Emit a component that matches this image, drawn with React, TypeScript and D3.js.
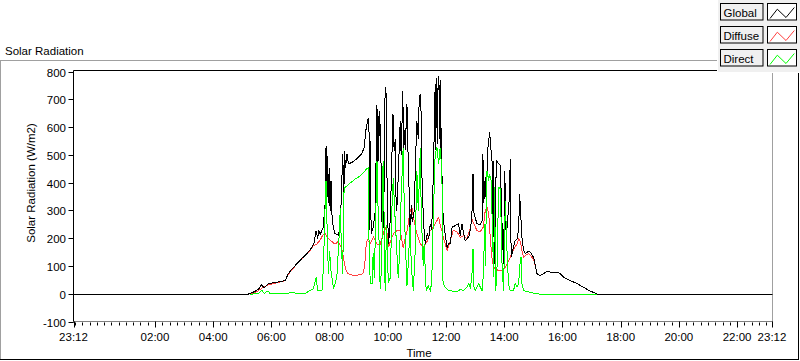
import React from "react";
import * as d3 from "d3";

// Time in hours of day; the axis runs from 23:12 of the previous day to 23:12.
const timeDomain: [number, number] = [-0.8, 23.2];
const valueDomain: [number, number] = [-100, 800];
const yTicks = [-100, 0, 100, 200, 300, 400, 500, 600, 700, 800];
const xTickHours = [-0.8, 2, 4, 6, 8, 10, 12, 14, 16, 18, 20, 22, 23.2];
const xTickLabels = ["23:12", "02:00", "04:00", "06:00", "08:00", "10:00", "12:00", "14:00", "16:00", "18:00", "20:00", "22:00", "23:12"];

const seriesNames = ["Global", "Diffuse", "Direct"];
const seriesColors = ["#000000", "#ff4040", "#00ff00"];

// [hour of day, W/m2]
const globalDay: [number, number][] = [
  [5.18, 0], [5.42, 10], [5.56, 20], [5.65, 35], [5.73, 22], [5.87, 38], [6.11, 42], [6.46, 49],
  [6.56, 74], [6.7, 92], [6.86, 110], [7.04, 130], [7.2, 146], [7.35, 165], [7.45, 185], [7.52, 229],
  [7.57, 200], [7.61, 230], [7.66, 215], [7.76, 240], [7.83, 326], [7.86, 535], [7.88, 380], [7.91, 499], [7.93, 330],
  [7.97, 456], [8.0, 300], [8.03, 409], [8.06, 290], [8.11, 240], [8.17, 218], [8.28, 212], [8.35, 240], [8.4, 409],
  [8.44, 506], [8.46, 229], [8.49, 517], [8.53, 456], [8.58, 506], [8.63, 470], [8.75, 474], [8.92, 488],
  [9.09, 506], [9.17, 528], [9.24, 600], [9.31, 636], [9.34, 578], [9.35, 230], [9.38, 553], [9.41, 218],
  [9.48, 240], [9.55, 300], [9.61, 680], [9.63, 420], [9.65, 640], [9.67, 480], [9.69, 660], [9.74, 560], [9.77, 265], [9.82, 240],
  [9.86, 400], [9.89, 745], [9.93, 720], [9.95, 445], [10.0, 181], [10.05, 230], [10.1, 400], [10.16, 650],
  [10.2, 517], [10.24, 560], [10.27, 301], [10.31, 330], [10.35, 457], [10.41, 625], [10.44, 500], [10.5, 733],
  [10.52, 480], [10.55, 590], [10.58, 520], [10.64, 686], [10.69, 445], [10.72, 360], [10.75, 193], [10.79, 320], [10.82, 260],
  [10.89, 300], [10.94, 500], [10.98, 625], [11.03, 560], [11.06, 700], [11.1, 722], [11.13, 640], [11.15, 445],
  [11.21, 254], [11.27, 181], [11.34, 220], [11.39, 200], [11.44, 254], [11.49, 230], [11.55, 445], [11.58, 600],
  [11.61, 758], [11.63, 520], [11.65, 700], [11.67, 780], [11.69, 540], [11.71, 760], [11.73, 787], [11.75, 730], [11.77, 560],
  [11.78, 770], [11.8, 520], [11.82, 600], [11.84, 445], [11.88, 290], [11.92, 240], [12.02, 168], [12.07, 181],
  [12.13, 181], [12.19, 241], [12.3, 247], [12.41, 254], [12.47, 211], [12.53, 254], [12.59, 218], [12.64, 193],
  [12.71, 200], [12.78, 211], [12.83, 241], [12.87, 277], [12.91, 434], [12.93, 301], [12.99, 272], [13.05, 254],
  [13.16, 250], [13.22, 265], [13.25, 506], [13.28, 330], [13.33, 421], [13.37, 313], [13.41, 517], [13.48, 583],
  [13.53, 517], [13.56, 500], [13.6, 205], [13.62, 481], [13.65, 110], [13.71, 481], [13.79, 470], [13.85, 463],
  [13.91, 241], [13.96, 110], [14.0, 445], [14.05, 200], [14.11, 280], [14.16, 350], [14.19, 488], [14.22, 133],
  [14.3, 169], [14.36, 193], [14.43, 200], [14.48, 240], [14.51, 362], [14.56, 265], [14.59, 205], [14.65, 157],
  [14.71, 146], [14.81, 155], [14.88, 151], [14.99, 133], [15.11, 74], [15.22, 67], [15.34, 74], [15.45, 83],
  [15.57, 79], [15.8, 79], [15.91, 74], [16.02, 61], [16.25, 49], [16.49, 38], [16.71, 25], [16.94, 11],
  [17.11, 4], [17.18, 0],
];

const diffuseDay: [number, number][] = [
  [5.25, 0], [5.46, 8], [5.66, 22], [5.87, 33], [6.11, 40], [6.46, 49], [6.56, 70], [6.7, 90],
  [6.86, 108], [7.04, 128], [7.2, 144], [7.31, 157], [7.42, 175], [7.54, 180], [7.66, 195], [7.76, 215],
  [7.83, 218], [7.9, 205], [8.0, 195], [8.17, 180], [8.28, 190], [8.35, 175], [8.41, 160], [8.46, 130],
  [8.52, 96], [8.59, 76], [8.69, 70], [8.86, 67], [9.09, 72], [9.15, 80], [9.21, 130], [9.24, 182],
  [9.28, 195], [9.38, 182], [9.49, 205], [9.55, 195], [9.62, 180], [9.72, 180], [9.82, 215], [9.89, 241],
  [9.95, 225], [10.01, 169], [10.07, 190], [10.18, 218], [10.3, 229], [10.41, 229], [10.51, 168], [10.58, 200],
  [10.65, 230], [10.75, 301], [10.81, 313], [10.86, 277], [10.98, 218], [11.1, 182], [11.2, 168], [11.33, 190],
  [11.44, 229], [11.54, 240], [11.67, 265], [11.73, 277], [11.78, 250], [11.84, 229], [11.89, 205], [12.02, 157],
  [12.07, 170], [12.13, 193], [12.23, 229], [12.36, 225], [12.47, 205], [12.59, 210], [12.7, 200], [12.82, 240],
  [12.87, 272], [12.93, 255], [13.05, 229], [13.16, 225], [13.26, 241], [13.33, 301], [13.39, 313], [13.45, 290],
  [13.5, 205], [13.56, 133], [13.62, 97], [13.68, 92], [13.79, 85], [13.91, 85], [14.02, 97], [14.08, 110],
  [14.19, 133], [14.3, 160], [14.42, 181], [14.48, 200], [14.54, 190], [14.59, 157], [14.65, 133], [14.71, 140],
  [14.82, 146], [14.88, 140], [14.99, 125], [15.11, 74], [15.22, 67], [15.34, 74], [15.45, 83], [15.57, 79],
  [15.8, 79], [15.91, 74], [16.02, 61], [16.25, 49], [16.49, 38], [16.71, 25], [16.94, 11], [17.11, 4],
  [17.18, 0],
];

const directDay: [number, number][] = [
  [5.25, 0], [5.53, 2], [5.66, 15], [5.73, 3], [5.87, 12], [5.94, 2], [6.28, 2], [6.56, 4],
  [6.73, 8], [6.83, 2], [7.14, 3], [7.31, 13], [7.42, 20], [7.52, 60], [7.57, 13], [7.72, 13],
  [7.77, 96], [7.83, 326], [7.86, 409], [7.89, 265], [7.94, 74], [7.98, 157], [8.03, 85], [8.12, 20],
  [8.23, 60], [8.32, 229], [8.35, 312], [8.38, 200], [8.43, 74], [8.46, 250], [8.48, 384], [8.52, 385],
  [8.69, 400], [8.86, 415], [9.03, 425], [9.17, 440], [9.26, 452], [9.31, 455], [9.34, 160], [9.38, 40],
  [9.44, 38], [9.48, 150], [9.52, 60], [9.61, 481], [9.65, 300], [9.69, 160], [9.72, 20], [9.77, 100],
  [9.82, 481], [9.86, 250], [9.89, 13], [9.94, 250], [10.0, 40], [10.07, 60], [10.12, 300], [10.17, 420],
  [10.22, 300], [10.27, 200], [10.34, 60], [10.39, 150], [10.44, 350], [10.51, 528], [10.55, 300], [10.58, 200],
  [10.64, 30], [10.68, 100], [10.75, 250], [10.79, 100], [10.86, 13], [10.92, 150], [10.98, 445], [11.03, 300],
  [11.1, 528], [11.13, 300], [11.2, 100], [11.23, 180], [11.3, 13], [11.37, 30], [11.44, 13], [11.49, 40],
  [11.54, 254], [11.61, 506], [11.67, 528], [11.73, 470], [11.78, 528], [11.84, 445], [11.88, 38], [11.96, 25],
  [12.06, 13], [12.13, 13], [12.36, 8], [12.47, 17], [12.59, 13], [12.7, 25], [12.76, 38], [12.82, 25],
  [12.87, 61], [12.91, 164], [12.93, 30], [12.99, 13], [13.1, 38], [13.22, 13], [13.27, 74], [13.31, 254],
  [13.33, 100], [13.39, 445], [13.45, 409], [13.48, 434], [13.53, 409], [13.56, 301], [13.62, 61], [13.65, 385],
  [13.69, 13], [13.73, 74], [13.79, 385], [13.85, 380], [13.91, 97], [13.96, 13], [14.02, 337], [14.08, 150],
  [14.13, 38], [14.19, 13], [14.3, 13], [14.36, 38], [14.42, 25], [14.48, 38], [14.51, 97], [14.56, 133],
  [14.59, 38], [14.65, 13], [14.77, 10], [14.88, 6], [15.11, 2], [15.22, 0], [17.18, 0],
];

const FONT = "'Liberation Sans', Arial, sans-serif";

export default function App() {
  const W = 800;
  const H = 361;
  const plot = { left: 73.5, right: 772, top: 71.5, bottom: 321.5 };

  const x = d3.scaleLinear().domain(timeDomain).range([plot.left, plot.right]);
  const y = d3.scaleLinear().domain(valueDomain).range([plot.bottom, plot.top]);

  const line = d3
    .line<[number, number]>()
    .x((d) => x(d[0]))
    .y((d) => y(d[1]));

  const globalFull: [number, number][] = [[timeDomain[0], 0], ...globalDay, [timeDomain[1], 0]];
  const seriesData = [globalFull, diffuseDay, directDay];
  const drawOrder = [1, 0, 2];

  const minorTicks = d3.range(-0.75, timeDomain[1], 0.25);

  const legendX = 717;
  const rowTop = [3.5, 26.5, 49.5];

  return (
    <svg
      width={W}
      height={H}
      style={{ position: "fixed", left: 0, top: 0, background: "#fff" }}
      fontFamily={FONT}
    >
      <rect x={0} y={0} width={W} height={H} fill="#fff" />
      {/* outer panel frame */}
      <line x1={0} y1={60.5} x2={legendX} y2={60.5} stroke="#a0a0a0" />
      <line x1={0.5} y1={60.5} x2={0.5} y2={359} stroke="#a0a0a0" />
      <line x1={0} y1={359.5} x2={799} y2={359.5} stroke="#000" />
      <line x1={798.5} y1={72} x2={798.5} y2={360} stroke="#000" />
      <text x={5} y={55} fontSize={11.5} fill="#000">Solar Radiation</text>

      {/* plot frame */}
      <line x1={plot.left} y1={70.5} x2={plot.right} y2={70.5} stroke="#000" />
      <line x1={plot.right + 0.5} y1={70.5} x2={plot.right + 0.5} y2={plot.bottom} stroke="#a0a0a0" />

      <clipPath id="plotclip">
        <rect x={plot.left} y={plot.top - 1} width={plot.right - plot.left} height={plot.bottom - plot.top + 1} />
      </clipPath>
      <g clipPath="url(#plotclip)" fill="none" transform="translate(0.5,0.5)">
        {drawOrder.map((i) => (
          <path
            key={seriesNames[i]}
            d={line(seriesData[i]) || ""}
            stroke={seriesColors[i]}
            strokeWidth={1}
            shapeRendering="crispEdges"
          />
        ))}
      </g>

      {/* y axis */}
      <line x1={plot.left} y1={70.5} x2={plot.left} y2={plot.bottom + 1} stroke="#000" />
      {yTicks.map((t) => (
        <g key={t}>
          <line x1={plot.left - 5} x2={plot.left} y1={Math.round(y(t)) + 0.5} y2={Math.round(y(t)) + 0.5} stroke="#000" />
          <text x={66} y={Math.round(y(t)) + 4.5} fontSize={11.5} textAnchor="end" fill="#000">
            {t}
          </text>
        </g>
      ))}
      <text
        transform={`translate(34.5,183) rotate(-90)`}
        fontSize={11.5}
        textAnchor="middle"
        fill="#000"
      >
        Solar Radiation (W/m2)
      </text>

      {/* x axis */}
      <line x1={plot.left} y1={plot.bottom} x2={plot.right + 1} y2={plot.bottom} stroke="#808080" />
      {minorTicks.map((t) => (
        <line key={t} x1={Math.round(x(t)) + 0.5} x2={Math.round(x(t)) + 0.5} y1={plot.bottom + 1} y2={plot.bottom + 4} stroke="#000" />
      ))}
      {xTickHours.map((t, i) => (
        <g key={i}>
          <line x1={Math.round(x(t)) + 0.5} x2={Math.round(x(t)) + 0.5} y1={plot.bottom} y2={plot.bottom + 6} stroke="#000" />
          <text x={x(t)} y={340.5} fontSize={11.5} textAnchor="middle" fill="#000">
            {xTickLabels[i]}
          </text>
        </g>
      ))}
      <text x={419} y={357} fontSize={11.5} textAnchor="middle" fill="#000">Time</text>

      {/* legend */}
      <rect x={legendX} y={0} width={W - legendX} height={72} fill="#f0f0f0" />
      <line x1={legendX + 0.5} y1={0} x2={legendX + 0.5} y2={72} stroke="#fff" />
      <line x1={legendX} y1={72.5} x2={W} y2={72.5} stroke="#fff" />
      {seriesNames.map((name, i) => {
        const top = rowTop[i];
        const zig = [
          [770, top + 15],
          [777.3, top + 5.7],
          [786, top + 14],
          [794.3, top + 4],
        ];
        return (
          <g key={name}>
            <rect x={720.5} y={top} width={42.5} height={16.5} fill="#f0f0f0" stroke="#000" />
            <text x={723.5} y={top + 13.5} fontSize={11.5} fill="#000">{name}</text>
            <rect x={767.5} y={top} width={29} height={16.5} fill="#fff" stroke="#000" />
            <polyline points={zig.map((p) => p.join(",")).join(" ")} fill="none" stroke={seriesColors[i]} />
          </g>
        );
      })}
    </svg>
  );
}
